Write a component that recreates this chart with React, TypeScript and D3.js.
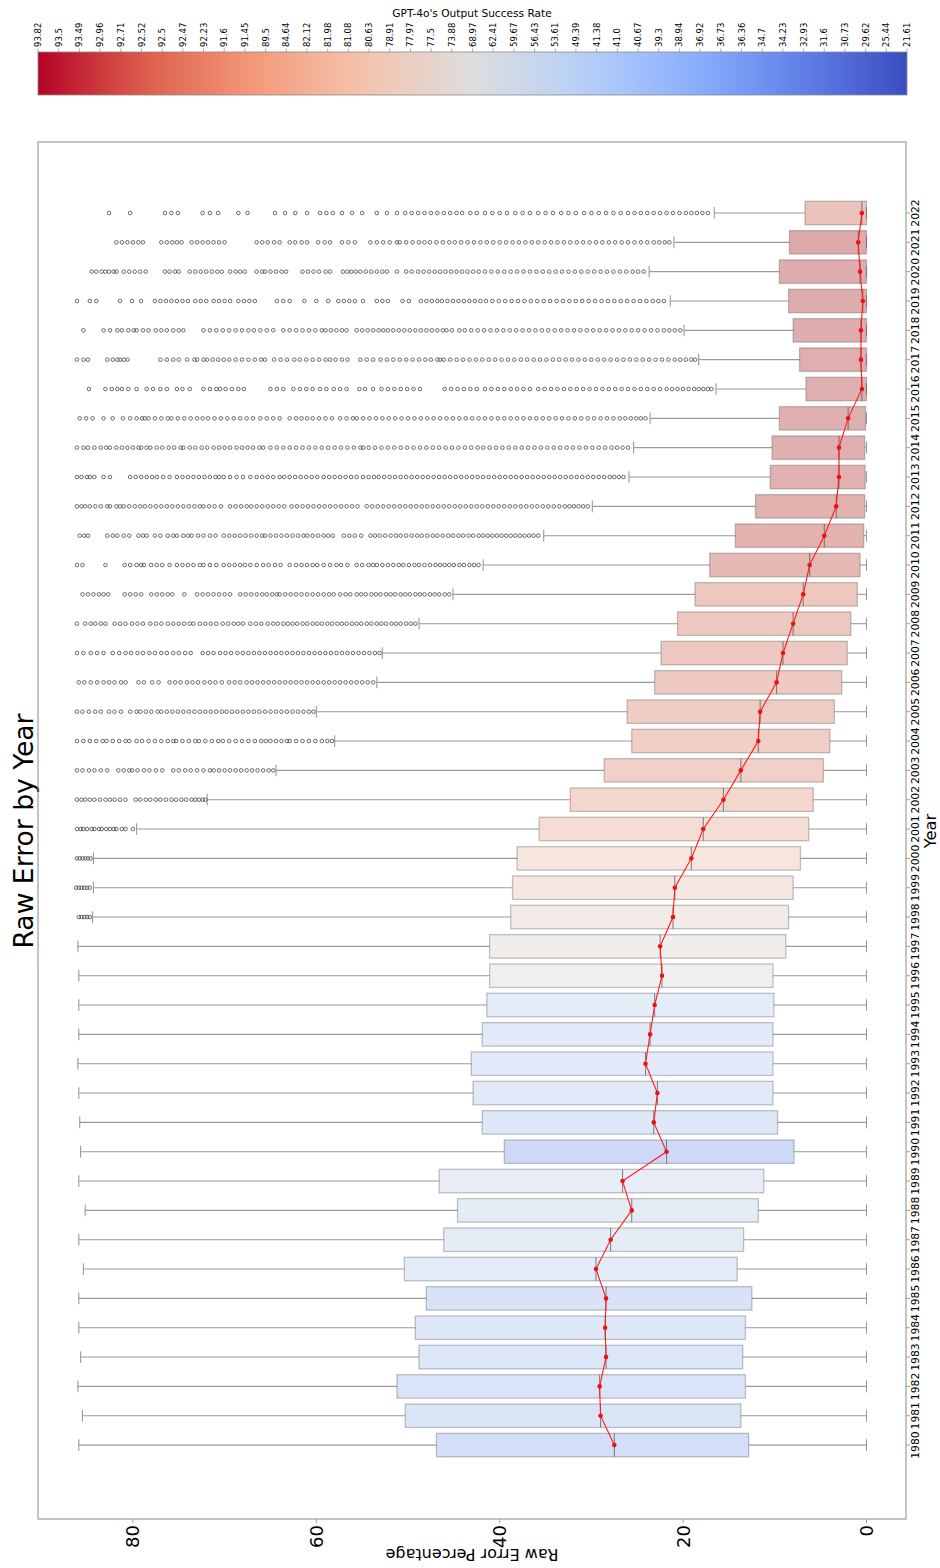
import React from 'react'
import * as d3 from 'd3'

// years on the category axis
const years = [1980, 1981, 1982, 1983, 1984, 1985, 1986, 1987, 1988, 1989, 1990, 1991, 1992, 1993, 1994, 1995, 1996, 1997, 1998, 1999,
  2000, 2001, 2002, 2003, 2004, 2005, 2006, 2007, 2008, 2009, 2010, 2011, 2012, 2013, 2014, 2015, 2016, 2017, 2018, 2019, 2020, 2021, 2022]

// GPT-4o success rate per year (drives the box colour)
const successRate = [25.44, 31.6, 30.73, 32.93, 34.23, 29.62, 38.94, 41.0, 40.67, 41.38, 21.61, 34.7, 36.36, 36.73, 36.92, 39.3, 49.39, 53.61, 56.43, 59.67,
  62.41, 68.97, 73.88, 77.5, 77.97, 78.91, 80.63, 81.08, 81.98, 82.12, 89.5, 91.45, 91.6, 92.23, 92.47, 92.5, 92.52, 92.71, 92.96, 93.49, 93.5, 93.82, 84.64]

// box statistics (raw error %)
const q1 = [12.85, 13.7, 13.2, 13.5, 13.2, 12.5, 14.1, 13.4, 11.8, 11.2, 7.9, 9.7, 10.2, 10.2, 10.2, 10.1, 10.2, 8.8, 8.5, 8.0,
  7.2, 6.3, 5.8, 4.7, 4.0, 3.5, 2.7, 2.1, 1.7, 1.0, 0.7, 0.3, 0.2, 0.15, 0.2, 0.1, 0, 0, 0, 0, 0, 0, 0]
const median = [27.5, 29.0, 29.1, 28.4, 28.5, 28.4, 29.5, 27.9, 25.6, 26.6, 21.8, 23.2, 22.8, 24.1, 23.6, 23.1, 22.3, 22.5, 21.1, 20.9,
  19.1, 17.8, 15.6, 13.7, 11.8, 11.6, 9.8, 9.1, 8.0, 6.9, 6.2, 4.6, 3.3, 3.0, 3.0, 2.0, 0.5, 0.6, 0.6, 0.4, 0.7, 0.9, 0.5]
const q3 = [46.9, 50.3, 51.2, 48.8, 49.2, 48.0, 50.4, 46.1, 44.6, 46.6, 39.5, 41.9, 42.9, 43.1, 41.9, 41.4, 41.1, 41.1, 38.8, 38.6,
  38.1, 35.7, 32.3, 28.6, 25.6, 26.1, 23.1, 22.4, 20.6, 18.7, 17.1, 14.3, 12.1, 10.5, 10.3, 9.5, 6.6, 7.3, 8.0, 8.5, 9.5, 8.4, 6.7]
const whiskerLow = [0, 0, 0, 0, 0, 0, 0, 0, 0, 0, 0, 0, 0, 0, 0, 0, 0, 0, 0, 0, 0, 0, 0, 0, 0, 0, 0, 0, 0, 0, 0, 0, 0, 0, 0, 0, 0, 0, 0, 0, 0, 0, 0]
const whiskerHigh = [85.9, 85.5, 86.0, 85.7, 85.9, 85.9, 85.4, 85.9, 85.2, 85.9, 85.7, 85.8, 85.9, 86.0, 85.9, 85.9, 85.9, 86.0, 84.4, 84.3,
  84.3, 79.6, 71.9, 64.4, 58.0, 60.0, 53.4, 52.8, 48.8, 45.1, 41.8, 35.2, 29.9, 25.9, 25.4, 23.6, 16.4, 18.3, 19.9, 21.4, 23.7, 21.0, 16.6]

// outliers
const out1998 = [85.9, 85.6, 85.3, 85.0, 84.7]
const out1999 = [86.2, 85.9, 85.6, 85.3, 85.0, 84.7]
const out2000 = [86.1, 85.8, 85.5, 85.2, 84.9, 84.6]
const out2001 = [86.1, 85.7, 85.4, 85.0, 84.5, 84.2, 83.7, 83.4, 82.9, 82.5, 82.1, 81.8, 81.2, 80.8, 80.0]
const out2002 = [86.1, 85.6, 85.2, 84.7, 84.2, 83.6, 83.0, 82.5, 82.0, 81.4, 80.8, 79.7, 79.2, 78.6, 78.1, 77.5, 77.0, 76.4, 75.8, 75.3,
  74.7, 74.2, 73.6, 73.2, 72.8, 72.4, 72.1]
const out2003 = [86.1, 85.5, 84.8, 84.2, 83.5, 82.8, 81.6, 81.0, 80.4, 80.1, 79.5, 78.8, 78.2, 77.5, 76.8, 75.6, 75.0, 74.3, 73.7, 73.0,
  72.3, 71.6, 71.2, 70.6, 70.0, 69.4, 68.8, 68.2, 67.6, 67.0, 66.4, 65.8, 65.2, 64.7]
const out2004 = [86.1, 85.4, 84.7, 84.0, 83.3, 82.9, 82.2, 81.5, 80.8, 80.4, 79.6, 79.0, 78.3, 77.6, 76.9, 76.2, 75.6, 75.3, 74.6, 73.9,
  73.2, 72.8, 72.1, 71.4, 70.7, 70.2, 69.5, 68.8, 68.1, 67.4, 66.7, 66.0, 65.5, 65.0, 64.4, 63.8, 63.2, 62.9, 62.2, 61.5, 60.8, 60.1,
  59.4, 58.8, 58.3]
const out2005 = [86.1, 85.5, 84.8, 84.1, 83.5, 82.6, 82.0, 81.3, 80.3, 79.6, 79.2, 78.6, 78.0, 77.3, 76.9, 76.3, 75.7, 75.1, 74.5, 73.9,
  73.3, 72.7, 72.1, 71.5, 70.9, 70.3, 69.8, 69.2, 68.6, 68.0, 67.4, 66.8, 66.2, 65.6, 65.0, 64.4, 63.8, 63.2, 62.6, 62.0, 61.4, 60.8, 60.3]
const out2006 = [85.9, 85.3, 84.6, 83.9, 83.2, 82.6, 82.0, 81.3, 80.8, 79.4, 78.8, 77.9, 77.2, 76.0, 75.4, 74.8, 74.1, 73.5, 72.9, 72.2,
  71.6, 71.0, 70.3, 69.5, 68.9, 68.3, 67.6, 67.0, 66.4, 65.8, 65.2, 64.6, 64.0, 63.4, 62.8, 62.2, 61.6, 61.0, 60.4, 59.8, 59.2, 58.6,
  58.0, 57.4, 56.8, 56.2, 55.6, 55.0, 54.4, 53.8]
const out2007 = [86.1, 85.4, 84.6, 83.9, 83.2, 82.2, 81.5, 80.8, 80.2, 79.5, 78.9, 78.2, 77.6, 76.9, 76.3, 75.6, 75.0, 74.3, 73.7, 72.4,
  71.8, 71.2, 70.5, 69.9, 69.3, 68.6, 68.0, 67.4, 66.8, 66.2, 65.6, 65.0, 64.4, 63.8, 63.2, 62.6, 62.0, 61.4, 60.8, 60.2, 59.6, 59.0,
  58.4, 57.8, 57.2, 56.6, 56.0, 55.4, 54.8, 54.2, 53.6, 53.1]
const out2008 = [86.1, 85.2, 84.6, 84.1, 83.5, 83.0, 82.0, 81.4, 80.8, 80.1, 79.5, 78.9, 78.1, 77.5, 76.9, 76.2, 75.6, 75.0, 74.4, 73.8,
  73.4, 72.7, 72.1, 71.5, 70.9, 70.2, 69.6, 69.0, 68.5, 68.0, 67.2, 66.6, 66.0, 65.3, 64.7, 64.2, 63.6, 63.1, 62.6, 62.1, 61.5, 61.0,
  60.4, 59.9, 59.4, 58.8, 58.3, 57.7, 57.2, 56.7, 56.1, 55.6, 55.1, 54.5, 54.0, 53.4, 52.9, 52.4, 51.8, 51.3, 50.8, 50.2, 49.7, 49.2]
const out2009 = [85.5, 84.9, 84.3, 83.7, 83.2, 82.7, 80.9, 80.3, 79.7, 79.1, 78.0, 77.4, 76.8, 76.2, 75.7, 74.4, 73.0, 72.4, 71.8, 71.2,
  70.6, 70.0, 69.4, 68.3, 67.7, 67.1, 66.5, 65.9, 65.4, 64.8, 64.3, 64.0, 63.4, 62.8, 62.2, 61.6, 61.0, 60.4, 59.8, 59.2, 58.6, 58.1,
  57.4, 56.8, 56.3, 55.6, 55.1, 54.6, 54.0, 53.5, 53.0, 52.4, 51.9, 51.4, 50.8, 50.3, 49.8, 49.2, 48.7, 48.2, 47.6, 47.1, 46.6, 46.0, 45.5]
const out2010 = [86.1, 85.5, 83.0, 80.9, 80.3, 79.6, 79.1, 78.8, 78.0, 77.4, 76.8, 76.0, 75.2, 74.6, 74.0, 73.4, 72.7, 72.3, 71.6, 70.9,
  70.1, 69.5, 68.9, 68.3, 67.8, 67.2, 66.5, 65.8, 65.2, 64.5, 63.9, 62.9, 62.2, 61.6, 61.0, 60.4, 59.9, 59.2, 58.5, 57.8, 57.3, 56.6,
  55.6, 55.0, 54.3, 53.8, 53.4, 52.8, 52.2, 51.6, 51.0, 50.5, 49.9, 49.3, 48.8, 48.2, 47.6, 47.0, 46.5, 46.0, 45.5, 45.0, 44.4, 43.9,
  43.3, 42.8, 42.3]
const out2011 = [85.8, 85.3, 84.9, 82.8, 82.2, 81.7, 81.0, 80.4, 79.4, 78.9, 78.5, 77.6, 77.0, 76.2, 75.6, 75.2, 74.5, 74.0, 73.6, 72.9,
  72.3, 71.6, 71.0, 70.1, 69.5, 68.9, 68.3, 67.7, 67.1, 66.5, 65.9, 65.6, 65.0, 64.4, 63.8, 63.2, 62.6, 62.0, 61.4, 61.0, 60.4, 59.8,
  59.2, 58.7, 58.2, 57.0, 56.4, 55.8, 55.1, 54.1, 53.6, 53.1, 52.5, 51.9, 51.3, 50.8, 50.2, 49.6, 49.0, 48.5, 47.9, 47.3, 46.8, 46.2,
  45.6, 45.1, 44.5, 44.0, 43.4, 42.9, 42.3, 41.8, 41.3, 40.8, 40.3, 39.8, 39.3, 38.8, 38.3, 37.8, 37.3, 36.8, 36.3, 35.8]
const out2012 = [86.1, 85.6, 85.2, 84.7, 84.1, 83.5, 82.8, 82.5, 81.8, 81.4, 81.0, 80.4, 79.8, 79.2, 78.7, 78.1, 77.5, 76.9, 76.3, 75.7,
  75.1, 74.5, 73.9, 73.3, 72.7, 72.3, 71.7, 71.1, 70.4, 69.4, 68.8, 68.2, 67.6, 67.1, 66.5, 65.9, 65.3, 64.7, 64.1, 63.5, 62.7, 62.1,
  61.5, 60.9, 60.3, 59.7, 59.1, 58.5, 57.9, 57.3, 56.7, 56.1, 55.5, 54.5, 53.9, 53.3, 52.7, 52.1, 51.5, 50.9, 50.3, 49.7, 49.1, 48.5,
  47.9, 47.3, 46.7, 46.1, 45.5, 44.9, 44.3, 43.7, 43.1, 42.5, 41.9, 41.3, 40.7, 40.1, 39.5, 38.9, 38.3, 37.7, 37.1, 36.5, 35.9, 35.3,
  34.7, 34.1, 33.5, 32.9, 32.4, 31.9, 31.4, 30.9, 30.4]
const out2013 = [86.1, 85.6, 85.0, 84.7, 84.2, 83.2, 82.5, 80.3, 79.7, 79.1, 78.5, 77.9, 77.4, 76.7, 76.0, 75.2, 74.6, 74.0, 73.4, 72.8,
  72.2, 71.6, 71.0, 70.6, 70.1, 69.4, 68.7, 68.0, 67.2, 66.5, 65.9, 65.3, 64.7, 64.0, 63.5, 62.9, 62.3, 61.7, 61.1, 60.5, 59.9, 59.2,
  58.6, 58.0, 57.4, 56.8, 56.2, 55.6, 54.9, 54.3, 53.7, 53.2, 52.6, 52.0, 51.4, 50.8, 50.2, 49.6, 49.0, 48.4, 47.8, 47.2, 46.6, 46.0,
  45.4, 44.8, 44.2, 43.6, 43.0, 42.4, 41.8, 41.2, 40.6, 40.0, 39.4, 38.8, 38.2, 37.6, 37.0, 36.4, 35.8, 35.2, 34.6, 34.0, 33.4, 32.8,
  32.2, 31.6, 31.0, 30.4, 29.8, 29.2, 28.6, 28.0, 27.5, 27.0, 26.5]
const out2014 = [86.1, 85.4, 84.9, 84.2, 83.5, 82.9, 82.5, 81.8, 81.2, 80.6, 80.0, 79.4, 79.1, 78.5, 78.1, 77.4, 76.8, 76.1, 75.5, 74.8,
  74.5, 73.8, 73.2, 72.5, 71.9, 71.2, 70.6, 70.0, 69.4, 68.7, 68.1, 67.5, 66.9, 66.2, 65.8, 65.0, 64.3, 63.6, 62.9, 62.2, 61.5, 60.8,
  60.1, 59.4, 58.7, 58.0, 57.3, 56.6, 55.9, 55.2, 54.9, 54.3, 53.6, 52.9, 52.2, 51.5, 50.8, 50.1, 49.4, 48.7, 48.0, 47.3, 46.6, 45.9,
  45.2, 44.5, 43.8, 43.1, 42.4, 41.8, 41.1, 40.4, 39.7, 39.0, 38.3, 37.6, 36.9, 36.2, 35.5, 34.8, 34.1, 33.4, 32.7, 32.0, 31.3, 30.6,
  29.9, 29.2, 28.5, 27.8, 27.2, 26.6, 26.0]
const out2015 = [85.8, 85.1, 84.4, 83.2, 82.2, 81.1, 80.3, 79.6, 79.0, 78.7, 78.3, 77.6, 76.9, 76.2, 75.8, 75.1, 74.4, 73.7, 73.0, 72.4,
  71.8, 71.1, 70.4, 69.7, 69.0, 68.3, 67.6, 66.9, 66.1, 65.4, 64.7, 64.0, 62.9, 62.2, 61.6, 61.0, 60.4, 59.7, 59.0, 58.3, 57.4, 56.7,
  56.0, 55.6, 54.9, 54.2, 53.5, 52.8, 52.1, 51.4, 50.7, 50.0, 49.3, 48.6, 47.9, 47.2, 46.5, 45.8, 45.1, 44.4, 43.7, 43.0, 42.3, 41.6,
  40.9, 40.2, 39.5, 38.8, 38.1, 37.4, 36.7, 36.0, 35.3, 34.6, 33.9, 33.2, 32.5, 31.8, 31.1, 30.4, 29.7, 29.0, 28.3, 27.6, 26.9, 26.3,
  25.7, 25.1, 24.6, 24.1]
const out2016 = [84.8, 83.0, 82.3, 81.7, 81.2, 80.5, 79.6, 78.5, 77.8, 77.0, 76.3, 75.2, 74.6, 73.8, 72.3, 71.6, 70.9, 70.5, 69.9, 69.2,
  68.5, 67.9, 65.0, 64.3, 63.6, 62.5, 61.8, 61.1, 60.4, 59.6, 58.9, 58.1, 57.4, 56.7, 55.3, 54.7, 53.8, 52.9, 52.2, 51.5, 50.8, 50.1,
  49.4, 48.7, 46.0, 45.3, 44.6, 43.9, 43.2, 42.5, 41.6, 40.9, 40.2, 39.5, 38.8, 38.1, 37.4, 36.7, 35.8, 35.1, 34.4, 33.7, 33.0, 32.3,
  31.6, 30.9, 30.2, 29.5, 28.8, 28.1, 27.4, 26.7, 26.0, 25.3, 24.6, 23.9, 23.2, 22.5, 21.8, 21.2, 20.6, 20.0, 19.4, 18.8, 18.3, 17.8,
  17.3, 16.9]
const out2017 = [86.1, 85.4, 84.9, 82.8, 82.2, 81.7, 81.4, 81.0, 80.6, 77.0, 76.3, 75.6, 75.0, 74.1, 73.3, 73.0, 72.3, 71.9, 71.3, 70.7,
  70.1, 69.5, 68.8, 68.1, 67.4, 66.7, 66.0, 65.6, 64.6, 63.9, 63.2, 62.4, 61.8, 61.1, 60.4, 59.7, 59.0, 58.5, 57.9, 57.2, 56.6, 55.2,
  54.5, 53.8, 53.0, 52.3, 51.6, 50.9, 50.2, 49.5, 48.8, 48.1, 47.5, 46.8, 46.5, 46.1, 45.4, 44.7, 44.0, 43.3, 42.6, 41.9, 41.2, 40.5,
  39.8, 39.1, 38.4, 37.7, 37.0, 36.3, 35.6, 34.9, 34.2, 33.5, 32.8, 32.1, 31.4, 30.7, 30.0, 29.3, 28.6, 27.9, 27.2, 26.5, 25.8, 25.1,
  24.4, 23.7, 23.0, 22.3, 21.6, 20.9, 20.3, 19.7, 19.1, 18.7]
const out2018 = [85.4, 83.2, 82.5, 81.7, 81.2, 80.5, 79.9, 79.6, 78.9, 78.3, 77.5, 76.9, 76.3, 75.6, 75.0, 74.5, 72.3, 71.6, 70.9, 70.2,
  69.5, 68.8, 68.1, 67.4, 66.8, 66.1, 65.4, 64.7, 63.6, 62.9, 62.2, 61.5, 60.8, 60.1, 59.4, 59.0, 58.4, 57.8, 57.2, 56.7, 55.6, 55.0,
  54.4, 53.8, 53.2, 52.7, 52.2, 51.6, 51.0, 50.4, 49.8, 49.2, 48.6, 48.0, 47.4, 46.8, 46.2, 45.8, 45.2, 44.4, 43.8, 43.1, 42.4, 41.7,
  41.0, 40.3, 39.6, 38.9, 38.2, 37.5, 36.8, 36.1, 35.4, 34.7, 34.0, 33.3, 32.6, 31.9, 31.2, 30.5, 29.8, 29.1, 28.4, 27.7, 27.0, 26.3,
  25.6, 24.9, 24.2, 23.5, 22.8, 22.1, 21.5, 20.9, 20.3]
const out2019 = [86.1, 84.7, 84.0, 81.4, 80.1, 79.1, 77.6, 77.0, 76.4, 75.8, 75.2, 74.6, 74.0, 73.2, 72.6, 72.0, 71.2, 70.6, 70.0, 69.4,
  68.5, 67.9, 67.3, 66.7, 64.3, 63.6, 62.9, 61.3, 60.0, 58.7, 57.6, 57.0, 56.4, 55.8, 54.9, 53.4, 52.8, 52.2, 50.6, 49.9, 48.6, 48.0,
  47.4, 46.8, 46.3, 45.7, 45.1, 44.5, 43.9, 43.3, 42.7, 42.1, 41.5, 40.8, 40.1, 39.4, 38.7, 38.0, 37.3, 36.6, 35.9, 35.2, 34.5, 33.8,
  33.1, 32.4, 31.7, 31.0, 30.3, 29.6, 28.9, 28.2, 27.5, 26.8, 26.1, 25.4, 24.7, 24.0, 23.3, 22.7, 22.1]
const out2020 = [84.5, 84.0, 83.4, 83.0, 82.6, 82.1, 81.8, 81.0, 80.4, 79.8, 79.2, 78.6, 76.5, 76.0, 75.4, 75.0, 73.8, 73.2, 72.6, 72.0,
  71.4, 70.8, 70.3, 69.4, 68.8, 68.3, 67.8, 66.5, 65.9, 65.6, 65.0, 64.4, 63.8, 63.3, 61.5, 60.9, 60.3, 59.7, 59.0, 58.5, 57.1, 56.6,
  56.2, 55.7, 55.2, 54.6, 54.0, 53.4, 52.8, 52.3, 51.2, 50.2, 49.6, 48.9, 48.3, 47.7, 47.1, 46.5, 45.9, 45.3, 44.7, 44.1, 43.5, 42.9,
  42.3, 41.6, 40.9, 40.2, 39.5, 38.8, 38.1, 37.4, 36.7, 36.0, 35.3, 34.6, 33.9, 33.2, 32.5, 31.8, 31.1, 30.4, 29.7, 29.0, 28.3, 27.6,
  26.9, 26.2, 25.5, 24.9, 24.3]
const out2021 = [81.8, 81.2, 80.6, 80.0, 79.4, 78.9, 76.9, 76.3, 75.7, 75.2, 74.7, 73.6, 73.0, 72.4, 71.8, 71.2, 70.6, 70.0, 66.5, 65.9,
  65.3, 64.6, 64.0, 62.9, 62.3, 61.6, 61.0, 59.8, 59.1, 58.5, 57.2, 56.5, 55.8, 54.1, 53.4, 52.7, 52.0, 51.2, 50.9, 50.2, 49.5, 48.8,
  48.2, 47.6, 46.9, 46.2, 45.5, 44.9, 44.2, 43.5, 42.8, 42.1, 41.4, 40.7, 40.0, 39.3, 38.6, 37.9, 37.2, 36.5, 35.8, 35.1, 34.4, 33.7,
  33.0, 32.3, 31.6, 30.9, 30.2, 29.5, 28.8, 28.1, 27.4, 26.7, 26.0, 25.3, 24.6, 23.9, 23.2, 22.6, 22.0, 21.5]
const out2022 = [82.6, 80.3, 76.5, 75.8, 75.1, 72.4, 71.6, 70.7, 68.5, 67.5, 64.5, 63.4, 62.3, 61.0, 59.6, 58.9, 58.2, 57.2, 56.1, 55.0,
  53.4, 52.3, 51.2, 50.3, 49.6, 48.9, 48.2, 47.5, 46.8, 46.1, 45.4, 44.7, 44.1, 43.2, 42.5, 41.6, 40.8, 40.0, 39.2, 38.3, 37.5, 36.7,
  35.8, 35.0, 34.2, 33.3, 32.5, 31.7, 30.8, 30.0, 29.2, 28.4, 27.6, 26.8, 26.0, 25.3, 24.6, 23.9, 23.2, 22.5, 21.8, 21.1, 20.4, 19.7,
  19.1, 18.5, 17.9, 17.3]

const outlierYears = [1998, 1999, 2000, 2001, 2002, 2003, 2004, 2005, 2006, 2007, 2008, 2009, 2010, 2011, 2012, 2013, 2014, 2015, 2016,
  2017, 2018, 2019, 2020, 2021, 2022]
const outlierValues = [out1998, out1999, out2000, out2001, out2002, out2003, out2004, out2005, out2006, out2007, out2008, out2009, out2010,
  out2011, out2012, out2013, out2014, out2015, out2016, out2017, out2018, out2019, out2020, out2021, out2022]

// colorbar tick labels, top (red) to bottom (blue)
const cbarLabels = ['93.82', '93.5', '93.49', '92.96', '92.71', '92.52', '92.5', '92.47', '92.23', '91.6', '91.45', '89.5', '84.64', '82.12',
  '81.98', '81.08', '80.63', '78.91', '77.97', '77.5', '73.88', '68.97', '62.41', '59.67', '56.43', '53.61', '49.39', '41.38', '41.0',
  '40.67', '39.3', '38.94', '36.92', '36.73', '36.36', '34.7', '34.23', '32.93', '31.6', '30.73', '29.62', '25.44', '21.61']

const yTicks = [0, 20, 40, 60, 80]

// matplotlib coolwarm
const coolwarm = d3.piecewise(d3.interpolateRgb, ['#3b4cc0', '#6282ea', '#8db0fe', '#b8d0f9', '#dddddd', '#f5c4ad', '#f49a7b', '#de604d', '#b40426'])

const boxColor = (rate: number) => {
  const c = d3.hsl(coolwarm(rate / 100))
  c.s *= 0.75 // seaborn saturation
  return c.formatHex()
}

const FONT = 'DejaVu Sans, Verdana, sans-serif'

export default function App() {
  // everything is laid out on an unrotated 1568 x 940 figure, then turned 90deg ccw
  const x = d3.scaleLinear().domain([-2.52, 44.42]).range([49, 1426])
  const y = d3.scaleLinear().domain([-4.31, 90.35]).range([906, 38])
  const bw = x(0.8) - x(0)
  const cap = bw / 2
  const cb = d3.scalePoint<string>().domain(cbarLabels).range([38, 907])

  const line = d3.line<number>().x((d, i) => x(i)).y(d => y(d))

  const stops = d3.range(0, 21).map(i => ({ off: i / 20, col: coolwarm(1 - i / 20) }))

  return (
    <svg width={940} height={1568} style={{ position: 'absolute', left: 0, top: 0, background: '#fff' }} fontFamily={FONT}>
      <defs>
        <linearGradient id="cw" x1="0" y1="0" x2="0" y2="1">
          {stops.map(s => <stop key={s.off} offset={s.off} stopColor={s.col} />)}
        </linearGradient>
      </defs>
      <rect x={0} y={0} width={940} height={1568} fill="#fff" />
      <g transform="translate(0,1568) rotate(-90)">
        {/* title */}
        <text x={737} y={33} textAnchor="middle" fontSize={26.6} fill="#000">Raw Error by Year</text>

        {/* whiskers + caps */}
        {years.map((yr, i) => (
          <g key={'w' + yr} stroke="#9a9a9a" strokeWidth={1.1}>
            <line x1={x(i)} x2={x(i)} y1={y(q3[i])} y2={y(whiskerHigh[i])} />
            <line x1={x(i)} x2={x(i)} y1={y(q1[i])} y2={y(whiskerLow[i])} />
            <line x1={x(i) - cap / 2} x2={x(i) + cap / 2} y1={y(whiskerHigh[i])} y2={y(whiskerHigh[i])} />
            <line x1={x(i) - cap / 2} x2={x(i) + cap / 2} y1={y(whiskerLow[i])} y2={y(whiskerLow[i])} />
          </g>
        ))}

        {/* boxes */}
        {years.map((yr, i) => (
          <rect key={'b' + yr} x={x(i) - bw / 2} width={bw} y={y(q3[i])} height={y(q1[i]) - y(q3[i])}
            fill={boxColor(successRate[i])} fillOpacity={0.45} stroke="#555" strokeOpacity={0.35} strokeWidth={1.3} />
        ))}

        {/* medians */}
        {years.map((yr, i) => (
          <line key={'m' + yr} x1={x(i) - bw / 2} x2={x(i) + bw / 2} y1={y(median[i])} y2={y(median[i])}
            stroke="#555" strokeOpacity={0.75} strokeWidth={1} />
        ))}

        {/* outliers */}
        {outlierYears.map((yr, k) => {
          const i = years.indexOf(yr)
          return (
            <g key={'o' + yr} fill="none" stroke="#3c3c3c" strokeWidth={0.75}>
              {outlierValues[k].map((v, j) => <circle key={j} cx={x(i)} cy={y(v)} r={1.8} />)}
            </g>
          )
        })}

        {/* red median trend */}
        <path d={line(median) || ''} fill="none" stroke="#ff1a1a" strokeWidth={1.1} />
        {median.map((v, i) => <circle key={'r' + i} cx={x(i)} cy={y(v)} r={2.3} fill="#ee1111" />)}

        {/* frame */}
        <rect x={49} y={38} width={1426 - 49} height={906 - 38} fill="none" stroke="#8a8a8a" strokeWidth={1} />

        {/* year axis */}
        {years.map((yr, i) => (
          <g key={'t' + yr}>
            <line x1={x(i)} x2={x(i)} y1={906} y2={910} stroke="#8a8a8a" strokeWidth={0.8} />
            <text x={x(i)} y={918.5} textAnchor="middle" fontSize={10.8} fill="#000">{yr}</text>
          </g>
        ))}
        <text x={737} y={936} textAnchor="middle" fontSize={16.4} fill="#000">Year</text>

        {/* raw error axis */}
        {yTicks.map(t => (
          <g key={'y' + t}>
            <line x1={45} x2={49} y1={y(t)} y2={y(t)} stroke="#8a8a8a" strokeWidth={0.8} />
            <text x={43} y={y(t)} dy="0.36em" textAnchor="end" fontSize={18} fill="#000">{t}</text>
          </g>
        ))}
        <text transform={`translate(19,${(38 + 906) / 2}) rotate(-90)`} textAnchor="middle" fontSize={16} fill="#000">Raw Error Percentage</text>

        {/* colorbar */}
        <rect x={1473} y={38} width={43} height={907 - 38} fill="url(#cw)" stroke="#8a8a8a" strokeWidth={0.8} />
        {cbarLabels.map(l => (
          <g key={'c' + l}>
            <line x1={1516} x2={1519.5} y1={cb(l)} y2={cb(l)} stroke="#8a8a8a" strokeWidth={0.7} />
            <text x={1521} y={cb(l)} dy="0.36em" fontSize={8.5} fill="#000">{l}</text>
          </g>
        ))}
        <text transform={`translate(1551,472) rotate(90)`} textAnchor="middle" fontSize={10.6} fill="#000">GPT-4o's Output Success Rate</text>
      </g>
    </svg>
  )
}
